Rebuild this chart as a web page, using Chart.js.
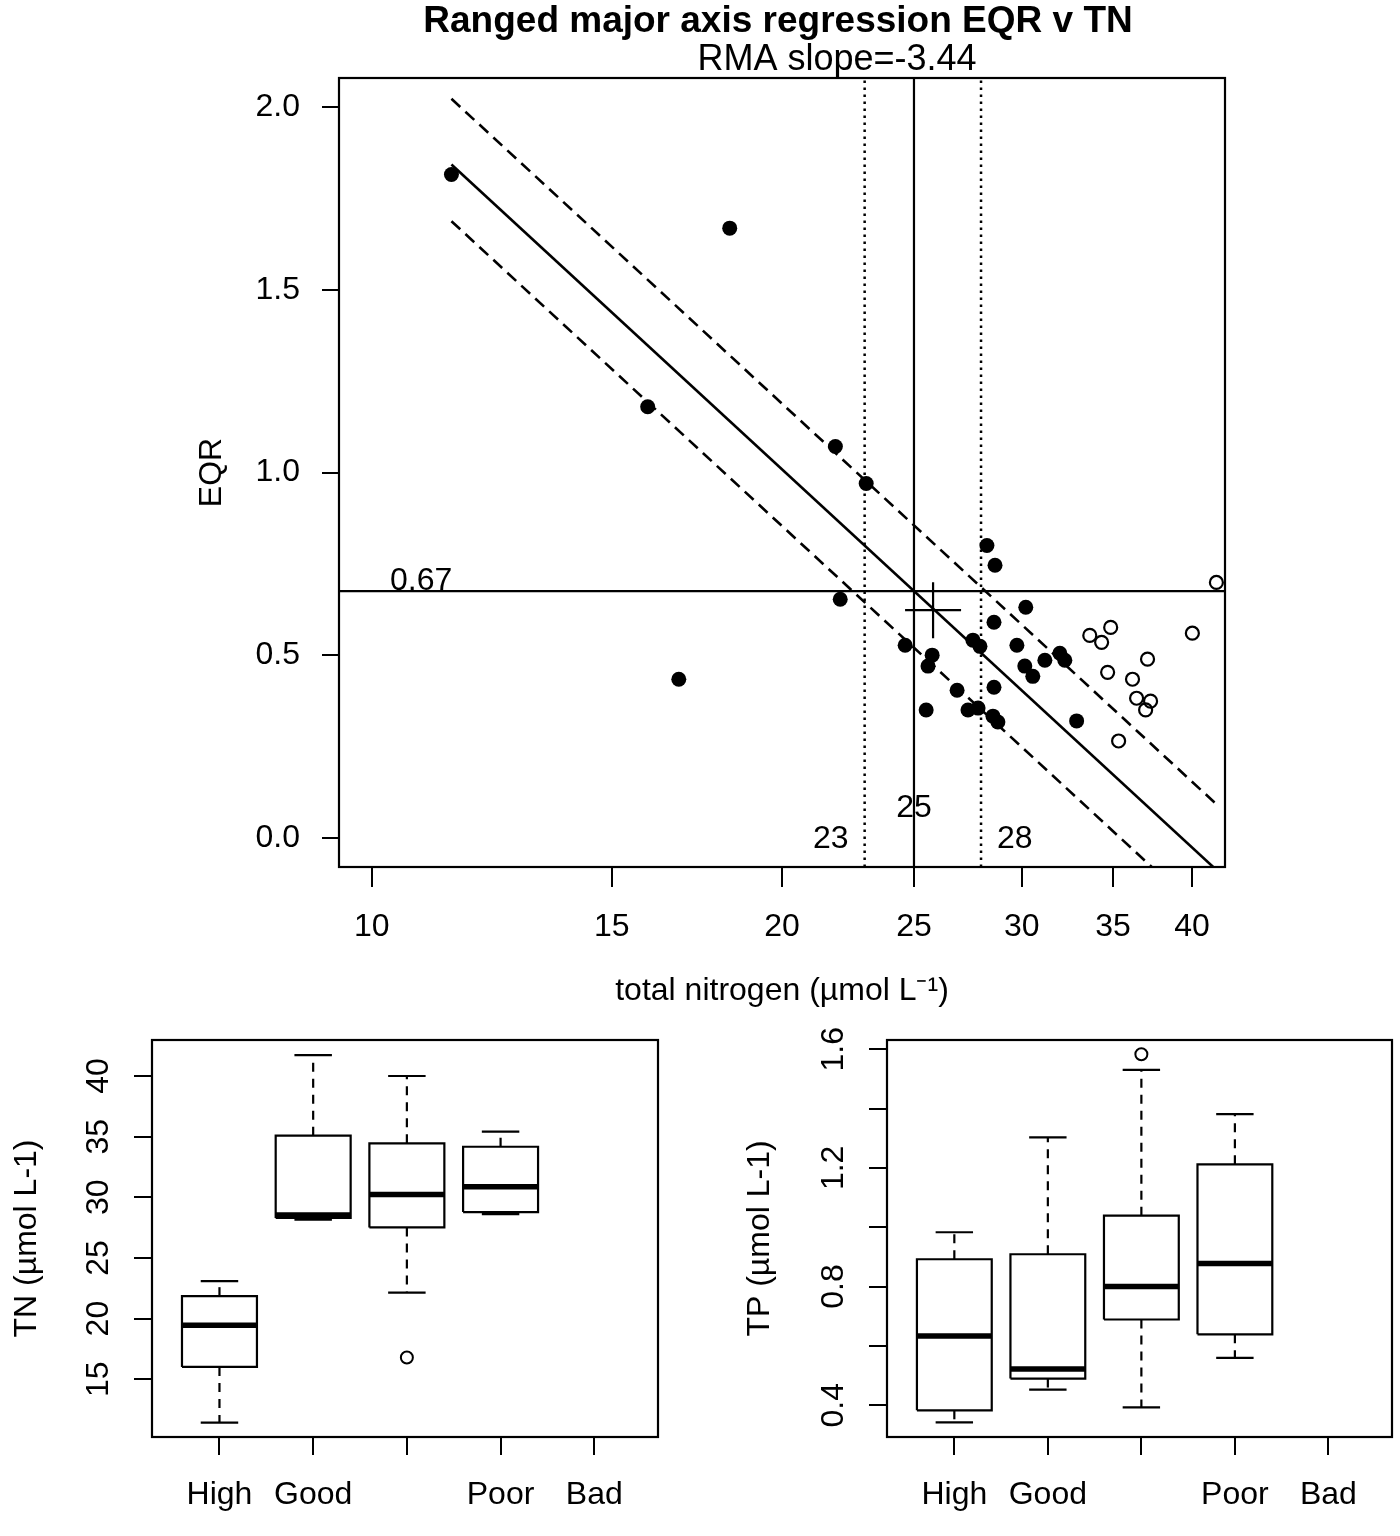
<!DOCTYPE html>
<html>
<head>
<meta charset="utf-8">
<script src="https://cdn.jsdelivr.net/npm/chart.js@4.4.0/dist/chart.umd.min.js"></script>
<style>
html,body{margin:0;padding:0;background:#fff;}
#wrap{position:relative;width:1400px;height:1536px;background:#fff;overflow:hidden;}
canvas{position:absolute;}
</style>
</head>
<body>
<div id="wrap">
<canvas id="rma" width="1400" height="1015" style="left:0;top:0;width:1400px;height:1015px"></canvas>
<canvas id="tnbox" width="700" height="521" style="left:0;top:1015px;width:700px;height:521px"></canvas>
<canvas id="tpbox" width="700" height="521" style="left:700px;top:1015px;width:700px;height:521px"></canvas>
</div>
<script>
// ---------- texts ----------
const titleText = 'Ranged major axis regression EQR v TN';
const subtitleText = 'RMA slope=-3.44';
const rmaXTitle = 'total nitrogen (\u00B5mol L\u207B\u00B9)';
const rmaYTitle = 'EQR';
const tnBoxYTitle = 'TN (\u00B5mol L-1)';
const tpBoxYTitle = 'TP (\u00B5mol L-1)';

// ---------- top panel: scatter (TN vs EQR) ----------
// sites inside the reference set (filled) and outside it (open)
const tnFilled  = [11.44, 18.31, 15.94, 21.89, 23.06, 22.07, 16.80, 28.28, 28.67, 30.20, 28.62, 27.62, 27.95, 29.75, 24.63, 25.78, 25.60, 31.19, 31.99, 32.26, 30.15, 30.56, 26.89, 28.62, 25.52, 27.39, 27.86, 28.57, 28.81, 32.91];
const eqrFilled = [1.816, 1.669, 1.180, 1.071, 0.970, 0.653, 0.434, 0.800, 0.746, 0.631, 0.590, 0.541, 0.524, 0.527, 0.527, 0.500, 0.470, 0.486, 0.505, 0.486, 0.470, 0.442, 0.404, 0.412, 0.350, 0.350, 0.355, 0.333, 0.317, 0.320];
const tnOpen  = [41.68, 33.65, 34.86, 34.33, 40.02, 37.10, 34.68, 36.17, 36.42, 37.29, 36.98, 35.33];
const eqrOpen = [0.699, 0.554, 0.576, 0.535, 0.560, 0.489, 0.453, 0.434, 0.382, 0.374, 0.350, 0.265];

// regression line and its band (end points)
const fitTN     = [11.44, 41.68];
const fitEQR    = [1.843, -0.088];
const upperEQR  = [2.023, 0.092];
const lowerEQR  = [1.688, -0.243];

// centroid
const centroidTN = 25.82;
const centroidEQR = 0.623;

// boundaries
const eqrBoundary = 0.675;
const eqrBoundaryLabel = '0.67';
const tnBoundary = 25, tnLowBound = 23, tnHighBound = 28;
const tnBoundaryLabels = ['23', '25', '28'];

// axes
const tnAxisMin = 9.46, tnAxisMax = 42.29;
const eqrAxisMin = -0.08, eqrAxisMax = 2.08;
const tnTickValues = [10, 15, 20, 25, 30, 35, 40];
const eqrTickValues = [0, 0.5, 1.0, 1.5, 2.0];

// ---------- bottom panels: boxplots by class ----------
const classes = ['High', 'Good', 'Moderate', 'Poor', 'Bad'];
const classTickLabels = ['High', 'Good', '', 'Poor', 'Bad'];

const tnLow  = [11.42, 28.15, 22.15, 28.61, null];
const tnQ1   = [16.02, 28.30, 27.52, 28.78, null];
const tnMed  = [19.46, 28.55, 30.24, 30.87, null];
const tnQ3   = [21.85, 35.08, 34.45, 34.17, null];
const tnHigh = [23.09, 41.73, 40.00, 35.41, null];
const tnOutliers = [[], [], [16.79], [], []];
const tnBoxTicks = [15, 20, 25, 30, 35, 40];
const tnBoxTickLabels = ['15', '20', '25', '30', '35', '40'];
const tnBoxMin = 10.24, tnBoxMax = 42.97;

const tpLow  = [0.342, 0.453, 0.393, 0.560, null];
const tpQ1   = [0.383, 0.490, 0.689, 0.639, null];
const tpMed  = [0.633, 0.522, 0.800, 0.878, null];
const tpQ3   = [0.892, 0.909, 1.039, 1.212, null];
const tpHigh = [0.983, 1.303, 1.530, 1.381, null];
const tpOutliers = [[], [], [1.583], [], []];
const tpBoxTicks = [0.4, 0.6, 0.8, 1.0, 1.2, 1.4, 1.6];
const tpBoxTickLabels = ['0.4', '', '0.8', '', '1.2', '', '1.6'];
const tpBoxMin = 0.293, tpBoxMax = 1.631;

const classAxisMin = 0.28, classAxisMax = 5.68;
const classPositions = [1, 2, 3, 4, 5];

// ---------- styling ----------
const FONT = '"Liberation Sans", Arial, Helvetica, sans-serif';
Chart.defaults.font.family = FONT;
Chart.defaults.color = '#000';
const BLACK = '#000';
const boxHalf = 0.4, capHalf = 0.2;

const framePlugin = {
  id: 'frame',
  afterDatasetsDraw(chart) {
    const {ctx, chartArea: a} = chart;
    ctx.save();
    ctx.strokeStyle = BLACK;
    ctx.lineWidth = 2.2;
    ctx.strokeRect(a.left, a.top, a.right - a.left, a.bottom - a.top);
    ctx.restore();
  }
};

function lineDs(xs, ys, dash, width) {
  return {
    type: 'scatter',
    data: xs.map((x, i) => ({x: x, y: ys[i]})),
    showLine: true,
    borderColor: BLACK,
    borderWidth: width,
    borderDash: dash,
    pointRadius: 0,
    fill: false,
    tension: 0
  };
}

function axisGrid(len) {
  return {display: true, drawOnChartArea: false, drawTicks: true, tickLength: len, color: BLACK, lineWidth: 2};
}

function noPad(s) {
  s.paddingTop = 0; s.paddingBottom = 0; s.paddingLeft = 0; s.paddingRight = 0;
}

// ---------- top chart ----------
const rmaTextPlugin = {
  id: 'rmaText',
  afterDraw(chart) {
    const {ctx} = chart;
    const xs = chart.scales.x, ys = chart.scales.y;
    ctx.save();
    ctx.fillStyle = BLACK;
    ctx.textAlign = 'center';
    ctx.textBaseline = 'alphabetic';
    ctx.font = 'bold 37px ' + FONT;
    ctx.fillText(titleText, 778, 32);
    ctx.font = '36px ' + FONT;
    ctx.fillText(subtitleText, 837, 70);
    ctx.font = '32px ' + FONT;
    ctx.textBaseline = 'middle';
    ctx.fillText(eqrBoundaryLabel, xs.getPixelForValue(10.87), ys.getPixelForValue(eqrBoundary) - 10);
    ctx.textAlign = 'right';
    ctx.fillText(tnBoundaryLabels[0], xs.getPixelForValue(tnLowBound) - 16, ys.getPixelForValue(0) + 1);
    ctx.textAlign = 'center';
    ctx.fillText(tnBoundaryLabels[1], xs.getPixelForValue(tnBoundary), ys.getPixelForValue(0.082));
    ctx.textAlign = 'left';
    ctx.fillText(tnBoundaryLabels[2], xs.getPixelForValue(tnHighBound) + 16, ys.getPixelForValue(0) + 1);
    ctx.restore();
  }
};

new Chart(document.getElementById('rma'), {
  type: 'scatter',
  data: {
    datasets: [
      {label: 'reference sites', data: tnFilled.map((x, i) => ({x: x, y: eqrFilled[i]})),
       pointRadius: 7.5, pointBackgroundColor: BLACK, pointBorderColor: BLACK, pointBorderWidth: 0, showLine: false},
      {label: 'other sites', data: tnOpen.map((x, i) => ({x: x, y: eqrOpen[i]})),
       pointRadius: 6.5, pointBackgroundColor: 'rgba(0,0,0,0)', pointBorderColor: BLACK, pointBorderWidth: 2.2, showLine: false},
      {label: 'centroid', data: [{x: centroidTN, y: centroidEQR}],
       pointStyle: 'cross', pointRadius: 28, pointBorderWidth: 2.2, pointBorderColor: BLACK, showLine: false},
      lineDs(fitTN, fitEQR, [], 2.6),
      lineDs(fitTN, upperEQR, [12, 7], 2.6),
      lineDs(fitTN, lowerEQR, [12, 7], 2.6),
      lineDs([tnLowBound, tnLowBound], [eqrAxisMin, eqrAxisMax], [2.5, 4.5], 2.5),
      lineDs([tnBoundary, tnBoundary], [eqrAxisMin, eqrAxisMax], [], 2.2),
      lineDs([tnHighBound, tnHighBound], [eqrAxisMin, eqrAxisMax], [2.5, 4.5], 2.5),
      lineDs([tnAxisMin, tnAxisMax], [eqrBoundary, eqrBoundary], [], 2.2)
    ]
  },
  options: {
    responsive: false,
    animation: false,
    events: [],
    layout: {padding: {left: 0, right: 175, top: 78, bottom: 0}},
    plugins: {legend: {display: false}, tooltip: {enabled: false}, title: {display: false}},
    scales: {
      x: {
        type: 'logarithmic', position: 'bottom', min: tnAxisMin, max: tnAxisMax,
        afterBuildTicks: s => { s.ticks = tnTickValues.map(v => ({value: v})); },
        afterFit: s => { s.height = 148; noPad(s); },
        ticks: {autoSkip: false, maxRotation: 0, minRotation: 0, padding: 21, font: {size: 32}, color: BLACK,
                callback: (v, i) => String(tnTickValues[i])},
        grid: axisGrid(20),
        border: {display: false},
        title: {display: true, text: rmaXTitle, font: {size: 32}, color: BLACK, padding: {top: 0, bottom: 5}}
      },
      y: {
        type: 'linear', position: 'left', min: eqrAxisMin, max: eqrAxisMax,
        afterBuildTicks: s => { s.ticks = eqrTickValues.map(v => ({value: v})); },
        afterFit: s => { s.width = 339; noPad(s); },
        ticks: {autoSkip: false, padding: 22, font: {size: 32}, color: BLACK,
                callback: (v, i) => eqrTickValues[i].toFixed(1)},
        grid: axisGrid(17),
        border: {display: false},
        title: {display: true, text: rmaYTitle, font: {size: 32}, color: BLACK, padding: {top: 193, bottom: 0}}
      }
    }
  },
  plugins: [framePlugin, rmaTextPlugin]
});

// ---------- boxplots ----------
function boxDatasets(lo, q1, med, q3, hi, outliers) {
  const ds = [];
  const pts = [];
  outliers.forEach((arr, i) => arr.forEach(v => pts.push({x: classPositions[i], y: v})));
  ds.push({data: pts, pointRadius: 6, pointBorderWidth: 2, pointBorderColor: BLACK,
           pointBackgroundColor: 'rgba(0,0,0,0)', showLine: false});
  classes.forEach((c, i) => {
    if (med[i] == null) return;
    const p = classPositions[i];
    ds.push(lineDs([p - boxHalf, p + boxHalf], [med[i], med[i]], [], 5.5));
    ds.push(lineDs([p - boxHalf, p + boxHalf, p + boxHalf, p - boxHalf, p - boxHalf],
                   [q1[i], q1[i], q3[i], q3[i], q1[i]], [], 2.2));
    ds.push(lineDs([p, p], [q3[i], hi[i]], [9, 7], 2.2));
    ds.push(lineDs([p, p], [q1[i], lo[i]], [9, 7], 2.2));
    ds.push(lineDs([p - capHalf, p + capHalf], [hi[i], hi[i]], [], 2.2));
    ds.push(lineDs([p - capHalf, p + capHalf], [lo[i], lo[i]], [], 2.2));
  });
  ds.forEach(d => { d.borderJoinStyle = 'miter'; });
  return ds;
}

function makeBox(id, datasets, yMin, yMax, yTicks, yTickLabels, yTitle, axisWidth, padRight, tickPad, titlePad) {
  new Chart(document.getElementById(id), {
    type: 'scatter',
    data: {datasets: datasets},
    options: {
      responsive: false,
      animation: false,
      events: [],
      layout: {padding: {left: 0, right: padRight, top: 25, bottom: 0}},
      plugins: {legend: {display: false}, tooltip: {enabled: false}},
      scales: {
        x: {
          type: 'linear', position: 'bottom', min: classAxisMin, max: classAxisMax,
          afterBuildTicks: s => { s.ticks = classPositions.map(v => ({value: v})); },
          afterFit: s => { s.height = 99; noPad(s); },
          ticks: {autoSkip: false, maxRotation: 0, minRotation: 0, padding: 21, font: {size: 32}, color: BLACK,
                  callback: (v, i) => classTickLabels[i]},
          grid: axisGrid(18),
          border: {display: false}
        },
        y: {
          type: 'linear', position: 'left', min: yMin, max: yMax,
          afterBuildTicks: s => { s.ticks = yTicks.map(v => ({value: v})); },
          afterFit: s => { s.width = axisWidth; noPad(s); },
          ticks: {autoSkip: false, minRotation: 90, maxRotation: 90, crossAlign: 'center', padding: tickPad,
                  font: {size: 32}, color: BLACK, callback: (v, i) => yTickLabels[i]},
          grid: axisGrid(18),
          border: {display: false},
          title: {display: true, text: yTitle, font: {size: 32}, color: BLACK, padding: {top: titlePad, bottom: 0}}
        }
      }
    },
    plugins: [framePlugin]
  });
}

makeBox('tnbox', boxDatasets(tnLow, tnQ1, tnMed, tnQ3, tnHigh, tnOutliers),
        tnBoxMin, tnBoxMax, tnBoxTicks, tnBoxTickLabels, tnBoxYTitle, 152, 42, 17, 8);
makeBox('tpbox', boxDatasets(tpLow, tpQ1, tpMed, tpQ3, tpHigh, tpOutliers),
        tpBoxMin, tpBoxMax, tpBoxTicks, tpBoxTickLabels, tpBoxYTitle, 187, 7, 13, 41);
</script>
</body>
</html>
